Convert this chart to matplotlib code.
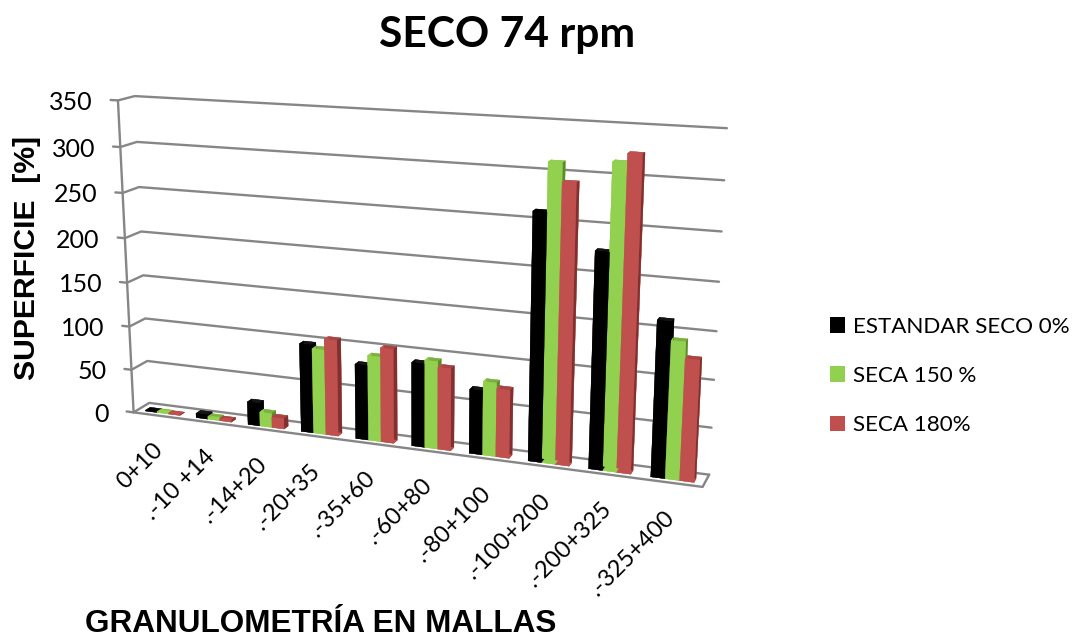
import numpy as np
import matplotlib
matplotlib.use("Agg")
import matplotlib.pyplot as plt
from matplotlib.colors import to_rgba_array
from matplotlib.patches import Patch
from matplotlib.projections import register_projection
from mpl_toolkits.mplot3d import Axes3D
from mpl_toolkits.mplot3d.art3d import Line3DCollection

categories = ["0+10", ".-10 +14", ".-14+20", ".-20+35", ".-35+60", ".-60+80",
              ".-80+100", ".-100+200", ".-200+325", ".-325+400"]
series_names = ["ESTANDAR SECO 0%", "SECA 150 %", "SECA 180%"]
estandar = [1, 5, 26, 99, 83, 92, 70, 262, 227, 163]
seca150 = [1, 3, 16, 95, 94, 96, 80, 312, 316, 144]
seca180 = [0.5, 2, 12, 107, 104, 90, 74, 293, 325, 127]
yticks = [0, 50, 100, 150, 200, 250, 300, 350]
front_col = ["#000000", "#92D050", "#C0504D"]
top_col = ["#141414", "#7DB040", "#A84542"]
side_col = ["#000000", "#5F8A2C", "#80302E"]

W, H = 1072, 638
# calibration of the Excel-style 3D camera: box position -> reference pixel
calib = [
    ((0, 0, 0), (133, 412)), ((0, 0, 350), (117, 101)), ((0, 0, 50), (131, 370)), ((0, 0, 300), (121, 147)),
    ((0, 1, 0), (149, 403)), ((0, 1, 350), (135, 96)), ((0, 1, 50), (147, 361)), ((0, 1, 300), (137, 142)),
    ((10, 1, 0), (709, 475)), ((10, 1, 350), (727, 128)), ((10, 1, 50), (712, 428)), ((10, 1, 100), (713, 380)),
    ((10, 1, 250), (722, 231)), ((10, 1, 300), (724, 180)), ((10, 0, 0), (703, 487)),
    ((9.16, .25, 0), (651, 477)), ((9.84, .25, 0), (693, 482)), ((8.16, .25, 0), (589, 469)),
    ((7.16, .25, 0), (528, 461)), ((1.16, .25, 0), (197, 417)), ((2.16, .25, 0), (248, 424)),
    ((3.16, .25, 0), (302, 432)), ((4.16, .25, 0), (356, 438)),
]
rows = []
rhs = []
for (x, y, z), (u, v) in calib:
    p = [x, y, z / 100.0, 1.0]
    rows.append(p + [0, 0, 0, 0] + [-u * c for c in p[:3]])
    rhs.append(u)
    rows.append([0, 0, 0, 0] + p + [-v * c for c in p[:3]])
    rhs.append(v)
sol = np.linalg.lstsq(np.array(rows, float), np.array(rhs, float), rcond=None)[0]
P = np.array([list(sol[:4]), list(sol[4:8]), list(sol[8:11]) + [1.0]])
P[:, 2] /= 100.0  # z is in value units


def to_px(x, y, z):
    u, v, w = P @ np.array([x, y, z, 1.0])
    return u / w, v / w


class ExcelAxes(Axes3D):
    name = "excel3d"

    def apply_aspect(self, position=None):
        self._set_position(self.get_position(original=True), "active")

    def get_proj(self):
        inv = self.transData.inverted().get_matrix()
        # pixels (y downward) -> display (y upward) -> axes 2D data
        flip = np.array([[1, 0, 0], [0, -1, H], [0, 0, 1]], float)
        Q = inv @ flip @ P
        depth = np.array([-1.0, 6.0, -0.001, 50.0]) / 100.0
        return np.array([Q[0], Q[1], depth, Q[2]])


register_projection(ExcelAxes)

fig = plt.figure(figsize=(W / 100, H / 100), dpi=100, facecolor="white")
ax = fig.add_axes([0, 0, 1, 1], projection="excel3d", computed_zorder=False)
ax.set_axis_off()
ax.patch.set_alpha(0)
ax.set_xlim3d(0, 10)
ax.set_ylim3d(0, 1)
ax.set_zlim3d(0, 350)

GRID = "#868686"
LW = 1.7
segments = []
for v in yticks:
    segments.append([(-0.14, 0, v), (0, 0, v), (0, 1, v), (10, 1, v)])
    u0, v0 = to_px(0, 0, v)
    fig.text((u0 - 25) / W, 1 - (v0 + 2) / H, str(v), ha="right", va="center", fontsize=18, family="Lato")
segments.append([(0, 0, 0), (0, 0, 350)])
segments.append([(0, 0, 0), (10, 0, 0), (10, 1, 0)])
ax.add_collection3d(Line3DCollection(segments, colors=GRID, linewidths=LW, zorder=1, capstyle="round"), autolim=False)

bar_w = 0.68 / 3
x0, y0, z0, dx, dy, dz, cols = [], [], [], [], [], [], []
for g in range(len(categories)):
    for s, vals in enumerate([estandar, seca150, seca180]):
        x0.append(g + 0.16 + s * bar_w)
        y0.append(0.25)
        z0.append(0)
        dx.append(bar_w)
        dy.append(0.3)
        dz.append(vals[g])
        cols += [front_col[s], top_col[s], front_col[s], front_col[s], front_col[s], side_col[s]]
rgba = to_rgba_array(cols)
bars = ax.bar3d(x0, y0, z0, dx, dy, dz, color=rgba, shade=False, zsort="average", edgecolor=rgba, linewidth=0.2)
bars.set_zorder(5)

for g, lab in enumerate(categories):
    u, v = to_px(g + 0.5, 0, 0)
    fig.text((u + 1) / W, 1 - (v + 31) / H, lab, rotation=45, ha="right", va="center", rotation_mode="anchor",
             fontsize=17, family="Lato")

fig.text(507 / W, 1 - 35 / H, "SECO 74 rpm", ha="center", va="center", fontsize=30.6, family="Lato", weight="bold")
fig.text(27 / W, 1 - 258 / H, "SUPERFICIE  [%]", rotation=90, ha="center", va="center", fontsize=21.7,
         family="Liberation Sans", weight="bold")
fig.text(321 / W, 1 - 624 / H, "GRANULOMETRÍA EN MALLAS", ha="center", va="center", fontsize=22.7,
         family="Liberation Sans", weight="bold")

handles = [Patch(facecolor=c, edgecolor="none", label=n) for c, n in zip(front_col, series_names)]
fig.legend(handles=handles, loc="center left", bbox_to_anchor=(830 / W, 1 - 376 / H), frameon=False,
           prop={"family": "Lato", "size": 16.1}, handlelength=0.68, handleheight=0.68, handletextpad=0.36,
           labelspacing=1.3, borderpad=0, borderaxespad=0)

fig.savefig("out.png", dpi=100)
